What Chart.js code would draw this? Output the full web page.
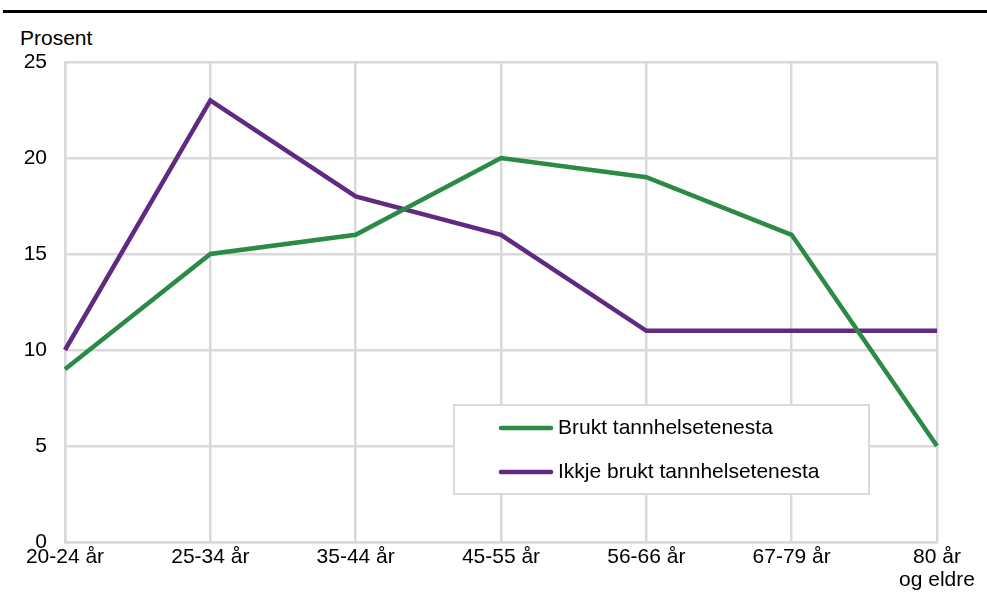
<!DOCTYPE html>
<html>
<head>
<meta charset="utf-8">
<script src="https://cdn.jsdelivr.net/npm/chart.js@4"></script>
<style>
  html, body { margin: 0; padding: 0; background: #fff; }
  #wrap { position: relative; width: 987px; height: 594px; overflow: hidden; }
  #rule { position: absolute; left: 3px; right: 0; top: 10px; height: 3px; background: #000; }
  #unit { position: absolute; left: 20px; top: 26px; font: 21px "Liberation Sans", Arial, sans-serif; color: #000; }
  canvas { position: absolute; left: 0; top: 0; }
</style>
</head>
<body>
<div id="wrap">
  <div id="rule"></div>
  <div id="unit">Prosent</div>
  <canvas id="c" width="987" height="594"></canvas>
</div>
<script>
// Age groups on the x axis
const ageGroups = ['20-24 år', '25-34 år', '35-44 år', '45-55 år', '56-66 år', '67-79 år', ['80 år', 'og eldre']];
// Share (per cent) in each age group
const usedDental = [9, 15, 16, 20, 19, 16, 5];
const notUsedDental = [10, 23, 18, 16, 11, 11, 11];
const seriesNames = ['Brukt tannhelsetenesta', 'Ikkje brukt tannhelsetenesta'];
const seriesColors = ['#2a8a46', '#5f2a7f'];
const yTicks = [0, 5, 10, 15, 20, 25];

const FONT = '"Liberation Sans", Arial, sans-serif';
const FONT_SIZE = 21;
const GRID = '#d9d9d9';

// Boxed legend drawn inside the plot area
const boxLegend = {
  id: 'boxLegend',
  afterDraw(chart) {
    const ctx = chart.ctx;
    const x = 454, y = 405, w = 415, h = 89;
    ctx.save();
    ctx.fillStyle = '#fff';
    ctx.fillRect(x, y, w, h);
    ctx.strokeStyle = GRID;
    ctx.lineWidth = 2;
    ctx.strokeRect(x, y, w, h);
    ctx.font = FONT_SIZE + 'px ' + FONT;
    ctx.textBaseline = 'middle';
    chart.data.datasets.forEach((ds, i) => {
      const ly = y + 23 + i * 44;
      ctx.strokeStyle = ds.borderColor;
      ctx.lineWidth = 4.5;
      ctx.lineCap = 'round';
      ctx.beginPath();
      ctx.moveTo(x + 47, ly);
      ctx.lineTo(x + 97, ly);
      ctx.stroke();
      ctx.fillStyle = '#000';
      ctx.fillText(ds.label, x + 104, ly);
    });
    ctx.restore();
  }
};

new Chart(document.getElementById('c'), {
  type: 'line',
  data: {
    labels: ageGroups,
    datasets: [
      { label: seriesNames[0], data: usedDental, borderColor: seriesColors[0], backgroundColor: seriesColors[0] },
      { label: seriesNames[1], data: notUsedDental, borderColor: seriesColors[1], backgroundColor: seriesColors[1] }
    ]
  },
  options: {
    responsive: false,
    animation: false,
    devicePixelRatio: 1,
    layout: { padding: { top: 62, right: 50, left: 0, bottom: 0 } },
    elements: {
      line: { borderWidth: 4.5, tension: 0, borderCapStyle: 'butt', borderJoinStyle: 'miter' },
      point: { radius: 0, hoverRadius: 0 }
    },
    plugins: { legend: { display: false }, tooltip: { enabled: false }, title: { display: false } },
    scales: {
      x: {
        offset: false,
        grid: { color: GRID, lineWidth: 2.5, drawTicks: false },
        border: { color: GRID, width: 2.5 },
        ticks: { color: '#000', font: { family: FONT, size: FONT_SIZE, lineHeight: 1.1 }, padding: 4, maxRotation: 0, autoSkip: false },
        afterFit(s) { s.height = 52; }
      },
      y: {
        min: 0, max: 25,
        afterBuildTicks(s) { s.ticks = yTicks.map(v => ({ value: v })); },
        grid: { color: GRID, lineWidth: 2.5, drawTicks: false },
        border: { color: GRID, width: 2.5 },
        ticks: { color: '#000', font: { family: FONT, size: FONT_SIZE }, padding: 18 },
        afterFit(s) { s.width = 65; }
      }
    }
  },
  plugins: [boxLegend]
});
</script>
</body>
</html>
